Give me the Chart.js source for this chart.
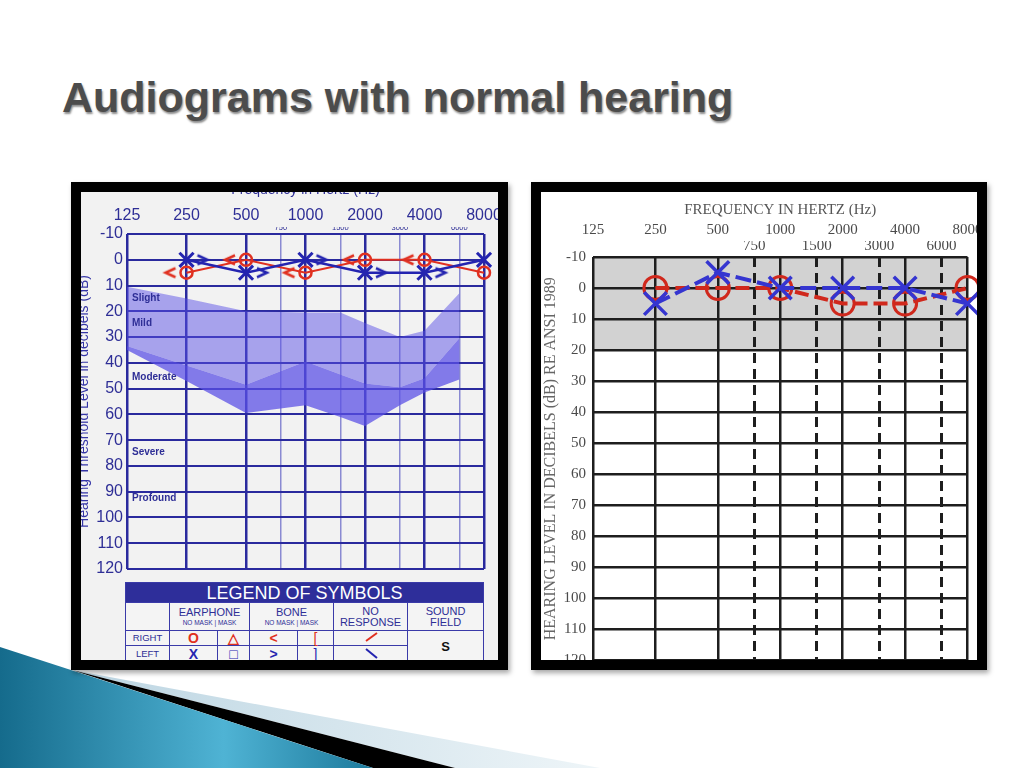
<!DOCTYPE html>
<html lang="en">

<head>
  <meta charset="UTF-8">
  <title>Audiograms with normal hearing</title>
  <script src="https://cdn.jsdelivr.net/npm/chart.js@4.4.0/dist/chart.umd.min.js"></script>
  <style>
    body { margin: 0; background: #fff; }
    .slide { position: relative; width: 1024px; height: 768px; overflow: hidden; background: #fff;
      font-family: "Liberation Sans", Arial, sans-serif; }
    .title { position: absolute; left: 62px; top: 76px; font-size: 43px; line-height: 42px; font-weight: bold;
      color: #4c4c4c; white-space: nowrap; text-shadow: 1px 2px 2px rgba(0, 0, 0, 0.45); }
    .deco { position: absolute; left: 0; top: 0; }
    .frame { position: absolute; border: 10px solid #000; overflow: hidden; box-shadow: 2px 3px 5px rgba(0, 0, 0, 0.35); }
    #leftFrame { left: 71px; top: 182px; width: 417px; height: 468px; background: #f2f2f2; }
    #rightFrame { left: 531px; top: 182px; width: 436px; height: 468px; background: #fff; }
    .chart-box { position: absolute; }
    #leftBox { left: -20px; top: -20px; width: 449px; height: 490px; }
    #rightBox { left: 0; top: 0; width: 446px; height: 488px; }

    .legend { position: absolute; left: 44px; top: 390px; width: 358px; border-collapse: collapse; table-layout: fixed;
      color: #2e2e96; text-align: center; background: #f4f4f4; }
    .legend td, .legend th { border: 1.5px solid #3a3aa8; padding: 0; line-height: 1; }
    .legend th { background: #2e2e9a; color: #fff; font-size: 18px; font-weight: normal; height: 19px; }
    .legend .hd td { height: 27px; font-size: 11px; }
    .legend .hd small { display: block; font-size: 6.5px; margin-top: 2px; }
    .legend .row td { font-size: 9.5px; }
    .legend .row .sym { font-size: 14px; font-weight: bold; }
    .legend .row .thin { font-weight: normal; }
    .legend .row .sf { font-size: 13px; font-weight: bold; color: #111; }
    .legend .red { color: #e03020; }
    .legend .blue { color: #2424b0; }
  </style>
</head>

<body>
  <div class="slide">
    <svg class="deco" width="1024" height="768" viewBox="0 0 1024 768">
      <defs>
        <linearGradient id="blueGrad" x1="0" y1="0" x2="1" y2="0">
          <stop offset="0" stop-color="#156b8c" />
          <stop offset="0.6" stop-color="#4fb3d4" />
          <stop offset="1" stop-color="#1d7a9c" />
        </linearGradient>
        <linearGradient id="paleGrad" x1="0" y1="0" x2="1" y2="0">
          <stop offset="0" stop-color="#bcd5e2" />
          <stop offset="1" stop-color="#eef5f8" />
        </linearGradient>
      </defs>
      <polygon points="72,670 600,768 455,768" fill="url(#paleGrad)" />
      <polygon points="72,670 455,768 373,768" fill="#000" />
      <polygon points="0,647 373,768 0,768" fill="url(#blueGrad)" />
    </svg>

    <div class="title">Audiograms with normal hearing</div>

    <div class="frame" id="leftFrame">
      <div class="chart-box" id="leftBox"><canvas id="leftChart"></canvas></div>
      <table class="legend">
        <colgroup>
          <col style="width:44px"><col style="width:48px"><col style="width:32px"><col style="width:48px">
          <col style="width:36px"><col style="width:74px"><col style="width:76px">
        </colgroup>
        <tr><th colspan="7">LEGEND OF SYMBOLS</th></tr>
        <tr class="hd">
          <td></td>
          <td colspan="2">EARPHONE<small>NO MASK | MASK</small></td>
          <td colspan="2">BONE<small>NO MASK | MASK</small></td>
          <td>NO<br>RESPONSE</td>
          <td>SOUND<br>FIELD</td>
        </tr>
        <tr class="row" style="height:13px">
          <td>RIGHT</td>
          <td class="sym red">O</td>
          <td class="sym red">&#9651;</td>
          <td class="sym red">&lt;</td>
          <td class="sym thin red">[</td>
          <td><svg width="16" height="10"><line x1="3" y1="9" x2="14" y2="1" stroke="#e03020" stroke-width="2" /></svg></td>
          <td rowspan="2" class="sf">S</td>
        </tr>
        <tr class="row" style="height:16px">
          <td>LEFT</td>
          <td class="sym blue">X</td>
          <td class="sym thin blue">&#9633;</td>
          <td class="sym blue">&gt;</td>
          <td class="sym thin blue">]</td>
          <td><svg width="16" height="12"><line x1="3" y1="2" x2="14" y2="11" stroke="#2424b0" stroke-width="2" /></svg></td>
        </tr>
      </table>
    </div>

    <div class="frame" id="rightFrame">
      <div class="chart-box" id="rightBox"><canvas id="rightChart"></canvas></div>
    </div>
  </div>

  <script>
    // audiogram axes
    const majorFreqs = [125, 250, 500, 1000, 2000, 4000, 8000];
    const minorFreqs = [750, 1500, 3000, 6000];
    const allFreqs = [125, 250, 500, 750, 1000, 1500, 2000, 3000, 4000, 6000, 8000];
    const dbTicks = [-10, 0, 10, 20, 30, 40, 50, 60, 70, 80, 90, 100, 110, 120];

    // left audiogram (dB HL)
    const testFreqsA = [250, 500, 1000, 2000, 4000, 8000];
    const rightAirA = [5, 0, 5, 0, 0, 5];
    const leftAirA = [0, 5, 0, 5, 5, 0];
    const boneFreqsA = [250, 500, 1000, 2000, 4000];
    const rightBoneA = [5, 0, 5, 0, 0];
    const leftBoneA = [0, 5, 0, 5, 5];

    // shaded speech area
    const bandFreqs = [125, 250, 500, 1000, 1500, 2000, 3000, 4000, 6000];
    const bandTop = [10.5, 15, 20, 20.5, 20.5, 24.5, 30, 27.5, 13];
    const bandMid = [33.5, 41, 48.5, 39.5, 44.5, 48, 49.5, 46, 30.5];
    const bandLow = [35, 47, 59.5, 56.5, 61, 64.5, 56.5, 51.5, 46.5];

    const degreeNames = ['Slight', 'Mild', 'Moderate', 'Severe', 'Profound'];
    const degreeLevels = [15, 24.5, 45.5, 74.5, 92.5];

    // right audiogram (dB HL)
    const testFreqsB = [250, 500, 1000, 2000, 4000, 8000];
    const rightAirB = [0, 0, 0, 5, 5, 0];
    const leftAirB = [5, -5, 0, 0, 0, 5];
    const normalZone = [-10, 20];

    const sans = '"Liberation Sans", Arial, sans-serif';
    const serif = '"Liberation Serif", "Times New Roman", serif';
    const navy = '#2e2e96';
    const isMinor = v => minorFreqs.includes(v);
    const pts = (xs, ys) => xs.map((x, i) => ({ x: x, y: ys[i] }));

    // bone conduction symbol drawn beside the frequency line
    function chevron(dir, color, dx, size, lw) {
      const w = (Math.abs(dx) + size) * 2;
      const h = size * 2;
      const c = document.createElement('canvas');
      c.width = w;
      c.height = h;
      const g = c.getContext('2d');
      const cx = w / 2 + dx, cy = h / 2, s = dir === '<' ? 1 : -1;
      g.strokeStyle = color;
      g.lineWidth = lw;
      g.beginPath();
      g.moveTo(cx + s * size * 0.5, cy - size * 0.45);
      g.lineTo(cx - s * size * 0.5, cy);
      g.lineTo(cx + s * size * 0.5, cy + size * 0.45);
      g.stroke();
      return c;
    }

    const degreePlugin = {
      id: 'degreeText',
      afterDatasetsDraw(chart) {
        const { ctx, chartArea, scales } = chart;
        ctx.save();
        ctx.font = 'bold 10px ' + sans;
        ctx.fillStyle = navy;
        ctx.textBaseline = 'middle';
        degreeNames.forEach((name, i) => {
          ctx.fillText(name, chartArea.left + 5, scales.y.getPixelForValue(degreeLevels[i]));
        });
        ctx.restore();
      }
    };

    const zonePlugin = {
      id: 'normalZone',
      beforeDraw(chart) {
        const { ctx, chartArea, scales } = chart;
        const y0 = scales.y.getPixelForValue(normalZone[0]);
        const y1 = scales.y.getPixelForValue(normalZone[1]);
        ctx.save();
        ctx.fillStyle = '#d2d2d2';
        ctx.fillRect(chartArea.left, y0, chartArea.right - chartArea.left, y1 - y0);
        ctx.restore();
      }
    };

    const red = '#e03020';
    const blue = '#2424b0';

    new Chart(document.getElementById('leftChart'), {
      type: 'line',
      data: {
        datasets: [
          { data: pts(testFreqsA, leftAirA), borderColor: blue, borderWidth: 2.5, pointStyle: 'crossRot',
            pointRadius: 10, pointBorderWidth: 3, pointBackgroundColor: 'transparent', clip: false },
          { data: pts(testFreqsA, rightAirA), borderColor: red, borderWidth: 2, pointStyle: 'circle',
            pointRadius: 6, pointBorderWidth: 2.5, pointBackgroundColor: 'transparent', clip: false },
          { data: pts(boneFreqsA, leftBoneA), showLine: false, pointRadius: 5,
            pointStyle: chevron('>', blue, 16, 10, 2.5), clip: false },
          { data: pts(boneFreqsA, rightBoneA), showLine: false, pointRadius: 5,
            pointStyle: chevron('<', red, -16, 10, 2.5), clip: false },
          { data: pts(bandFreqs, bandTop), borderWidth: 0, pointRadius: 0, fill: '+1',
            backgroundColor: 'rgba(90, 80, 230, 0.49)' },
          { data: pts(bandFreqs, bandMid), borderWidth: 0, pointRadius: 0, fill: '+1',
            backgroundColor: 'rgba(90, 80, 230, 0.74)' },
          { data: pts(bandFreqs, bandLow), borderWidth: 0, pointRadius: 0, fill: false }
        ]
      },
      options: {
        responsive: true,
        maintainAspectRatio: false,
        animation: false,
        layout: { padding: { left: 0, top: 0, right: 26, bottom: 93 } },
        plugins: { legend: { display: false }, tooltip: { enabled: false } },
        scales: {
          x: {
            type: 'logarithmic', position: 'top', min: 125, max: 8000, weight: 0,
            afterBuildTicks: s => { s.ticks = allFreqs.map(v => ({ value: v })); },
            afterFit: s => { s.height = 7; s.paddingLeft = 0; s.paddingRight = 0; },
            grid: {
              drawTicks: false,
              color: c => isMinor(c.tick && c.tick.value) ? '#8a8ad2' : '#2a2a9e',
              lineWidth: c => isMinor(c.tick && c.tick.value) ? 1.5 : 2.5
            },
            border: { display: false },
            ticks: { autoSkip: false, maxRotation: 0, padding: 2, color: navy, font: { size: 7.5, family: sans },
              callback: v => isMinor(v) ? String(v) : '' }
          },
          x2: {
            type: 'logarithmic', position: 'top', min: 125, max: 8000, weight: 1,
            afterBuildTicks: s => { s.ticks = majorFreqs.map(v => ({ value: v })); },
            afterFit: s => { s.height = 55; s.paddingLeft = 0; s.paddingRight = 0; },
            grid: { display: false, drawTicks: false },
            border: { display: false },
            ticks: { autoSkip: false, maxRotation: 0, padding: 2, color: navy, font: { size: 16, family: sans },
              callback: v => String(v) },
            title: { display: true, text: 'Frequency in Hertz (Hz)', color: navy, padding: { top: 10, bottom: 0 },
              font: { size: 14, family: sans } }
          },
          y: {
            reverse: true, min: -10, max: 120,
            afterBuildTicks: s => { s.ticks = dbTicks.map(v => ({ value: v })); },
            afterFit: s => { s.width = 66; s.paddingTop = 0; s.paddingBottom = 0; },
            grid: { drawTicks: false, color: '#2a2a9e', lineWidth: 2 },
            border: { display: false },
            ticks: { padding: 4, color: navy, font: { size: 16, family: sans } },
            title: { display: true, text: 'Hearing Threshold Level in decibels (dB)', color: '#3535a6',
              padding: { top: 15, bottom: 0 }, font: { size: 14, family: sans } }
          }
        }
      },
      plugins: [degreePlugin]
    });

    const red2 = '#d0281c';
    const blue2 = '#3535d0';

    new Chart(document.getElementById('rightChart'), {
      type: 'line',
      data: {
        datasets: [
          { data: pts(testFreqsB, leftAirB), borderColor: blue2, borderWidth: 4, borderDash: [16, 6],
            pointStyle: 'crossRot', pointRadius: 16, pointBorderWidth: 3.5, pointBackgroundColor: 'transparent', clip: false },
          { data: pts(testFreqsB, rightAirB), borderColor: red2, borderWidth: 4, borderDash: [14, 6],
            pointStyle: 'circle', pointRadius: 11.5, pointBorderWidth: 3, pointBackgroundColor: 'transparent', clip: false }
        ]
      },
      options: {
        responsive: true,
        maintainAspectRatio: false,
        animation: false,
        layout: { padding: { left: 0, top: 0, right: 14, bottom: 15 } },
        plugins: { legend: { display: false }, tooltip: { enabled: false } },
        scales: {
          x: {
            type: 'logarithmic', position: 'top', min: 125, max: 8000, weight: 0,
            afterBuildTicks: s => { s.ticks = allFreqs.map(v => ({ value: v })); },
            afterFit: s => { s.height = 16; s.paddingLeft = 0; s.paddingRight = 0; },
            grid: { drawTicks: false, color: '#1e1e1e', lineWidth: c => isMinor(c.tick && c.tick.value) ? 3 : 2.5 },
            border: { display: false, dash: c => (c.tick && isMinor(c.tick.value)) ? [10, 6] : [] },
            ticks: { autoSkip: false, maxRotation: 0, padding: 2, color: '#4a4a4a', font: { size: 15, family: serif },
              callback: v => isMinor(v) ? String(v) : '' }
          },
          x2: {
            type: 'logarithmic', position: 'top', min: 125, max: 8000, weight: 1,
            afterBuildTicks: s => { s.ticks = majorFreqs.map(v => ({ value: v })); },
            afterFit: s => { s.height = 49; s.paddingLeft = 0; s.paddingRight = 0; },
            grid: { display: false, drawTicks: false },
            border: { display: false },
            ticks: { autoSkip: false, maxRotation: 0, padding: 2, color: '#4a4a4a', font: { size: 15, family: serif },
              callback: v => String(v) },
            title: { display: true, text: 'FREQUENCY IN HERTZ (Hz)', color: '#555', padding: { top: 9, bottom: 0 },
              font: { size: 15, family: serif } }
          },
          y: {
            reverse: true, min: -10, max: 120,
            afterBuildTicks: s => { s.ticks = dbTicks.map(v => ({ value: v })); },
            afterFit: s => { s.width = 52; s.paddingTop = 0; s.paddingBottom = 0; },
            grid: { drawTicks: false, color: '#1e1e1e', lineWidth: 2.5 },
            border: { display: false },
            ticks: { padding: 7, color: '#4a4a4a', font: { size: 15, family: serif } },
            title: { display: true, text: 'HEARING LEVEL IN DECIBELS (dB) RE ANSI 1989', color: '#666',
              padding: { top: 0, bottom: 0 }, font: { size: 16, family: serif } }
          }
        }
      },
      plugins: [zonePlugin]
    });
  </script>

</body>

</html>
